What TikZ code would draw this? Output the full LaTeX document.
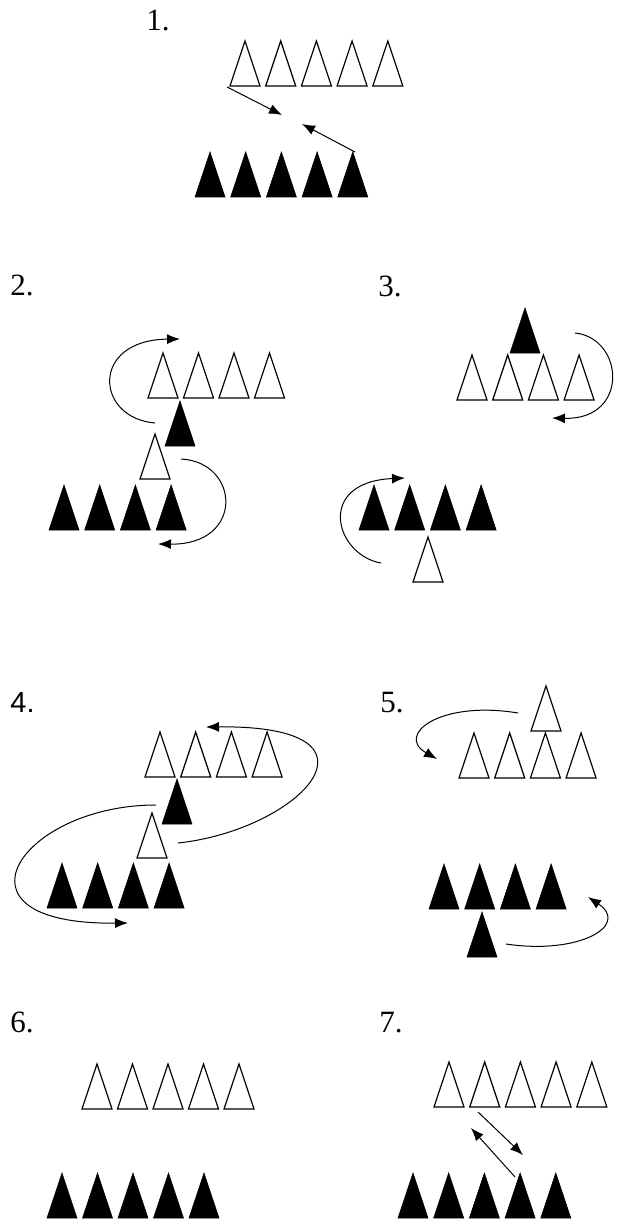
\documentclass[tikz,border=0pt]{standalone}
\usepackage{fontspec}
\setmainfont{Liberation Serif}
\newfontfamily\numsans{Liberation Sans}
\usetikzlibrary{arrows.meta}

\tikzset{
  wcone/.style={draw=black, line width=0.6pt, fill=white},
  bcone/.style={draw=black, line width=0.3pt, fill=black},
  mv/.style={-{Latex[length=6.5pt,width=5pt]}, line width=0.5pt},
  lbl/.style={anchor=base west, inner sep=0pt, font=\fontsize{15.5}{18}\selectfont}
}
% one cone: style, left end of base, base line
\newcommand{\cone}[3]{\draw[#1] (#2,#3) -- ++(30,0) -- ++(-15,-45) -- cycle;}

\begin{document}
\begin{tikzpicture}[x=0.5pt,y=-0.5pt]
\useasboundingbox (0,0) rectangle (616,1219);

%% 1.
\node[lbl] (n1) at (146,31) {1.};
\foreach \i in {0,...,4} {\cone{wcone}{230+35.7*\i}{86}}
\foreach \i in {0,...,4} {\cone{bcone}{195+35.7*\i}{197}}
\coordinate (p1a) at (227,87);
\coordinate (p1b) at (282,115);
\coordinate (p1c) at (355,152);
\coordinate (p1d) at (302,124);
\draw[mv] (p1a) -- (p1b);
\draw[mv] (p1c) -- (p1d);

%% 2.
\node[lbl] (n2) at (10,296) {2.};
\foreach \i in {0,...,3} {\cone{wcone}{148+35.5*\i}{398}}
\cone{bcone}{165}{446}
\cone{wcone}{140}{479}
\foreach \i in {0,...,3} {\cone{bcone}{49+35.7*\i}{530}}
\coordinate (p2a) at (155,423);
\coordinate (p2b) at (180,339);
\coordinate (p2c) at (181,459);
\coordinate (p2d) at (158,544);
\draw[mv] (p2a) .. controls (95,418) and (90,340) .. (p2b);
\draw[mv] (p2c) .. controls (240,462) and (245,545) .. (p2d);

%% 3.
\node[lbl] (n3) at (378,297) {3.};
\cone{bcone}{510}{353}
\foreach \i in {0,...,3} {\cone{wcone}{457+35.7*\i}{400}}
\foreach \i in {0,...,3} {\cone{bcone}{359+35.7*\i}{530}}
\cone{wcone}{413}{582}
\coordinate (p3a) at (575,333);
\coordinate (p3b) at (552,418);
\coordinate (p3c) at (381,563);
\coordinate (p3d) at (405,478);
\draw[mv] (p3a) .. controls (624,338) and (630,420) .. (p3b);
\draw[mv] (p3c) .. controls (335,555) and (315,482) .. (p3d);

%% 4.
\node[lbl, font=\numsans\fontsize{14.5}{17}\selectfont] (n4) at (10,712) {4.};
\foreach \i in {0,...,3} {\cone{wcone}{145+35.7*\i}{777}}
\cone{bcone}{162}{824}
\cone{wcone}{137}{858}
\foreach \i in {0,...,3} {\cone{bcone}{47+35.7*\i}{908}}
\coordinate (p4a) at (178,843);
\coordinate (p4b) at (206,727);
\coordinate (p4c) at (156,805);
\coordinate (p4d) at (128,923);
\draw[mv] (p4a) .. controls (300,830) and (400,725) .. (p4b);
\draw[mv] (p4c) .. controls (20,805) and (-60,925) .. (p4d);

%% 5.
\node[lbl] (n5) at (380,712) {5.};
\cone{wcone}{531}{731}
\foreach \i in {0,...,3} {\cone{wcone}{459+35.7*\i}{778}}
\foreach \i in {0,...,3} {\cone{bcone}{429+35.7*\i}{909}}
\cone{bcone}{467}{957}
\coordinate (p5a) at (518,713);
\coordinate (p5b) at (437,759);
\coordinate (p5c) at (506,944);
\coordinate (p5d) at (588,897);
\draw[mv] (p5a) .. controls (440,700) and (395,735) .. (p5b);
\draw[mv] (p5c) .. controls (580,955) and (630,925) .. (p5d);

%% 6.
\node[lbl] (n6) at (10,1032) {6.};
\foreach \i in {0,...,4} {\cone{wcone}{82+35.5*\i}{1109}}
\foreach \i in {0,...,4} {\cone{bcone}{47+35.5*\i}{1218}}

%% 7.
\node[lbl] (n7) at (379,1032) {7.};
\foreach \i in {0,...,4} {\cone{wcone}{434+35.7*\i}{1107}}
\foreach \i in {0,...,4} {\cone{bcone}{398+35.7*\i}{1218}}
\coordinate (p7a) at (478,1112);
\coordinate (p7b) at (523,1155);
\coordinate (p7c) at (515,1177);
\coordinate (p7d) at (471,1128);
\draw[mv] (p7a) -- (p7b);
\draw[mv] (p7c) -- (p7d);
\end{tikzpicture}
\end{document}
